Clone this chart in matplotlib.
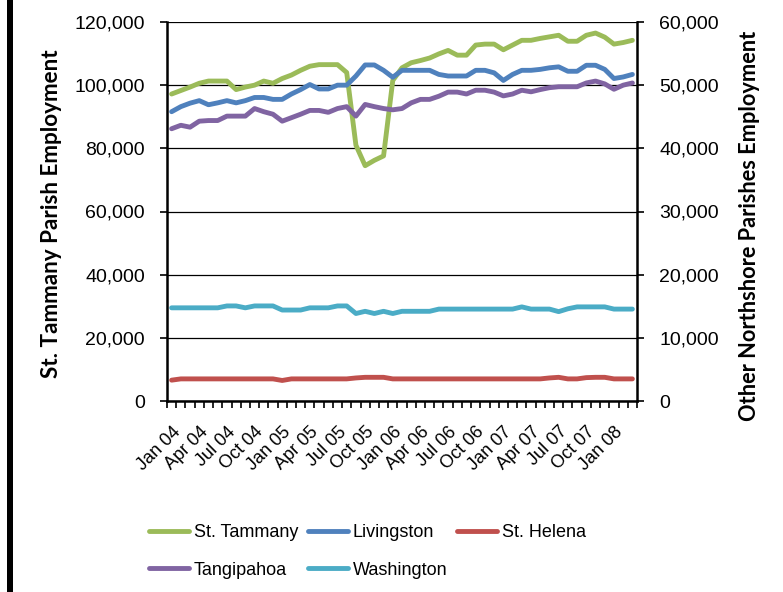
import matplotlib
matplotlib.use("Agg")
import matplotlib.pyplot as plt
from matplotlib.ticker import FuncFormatter, FixedLocator, MultipleLocator
from matplotlib.patches import Rectangle

plt.rcParams['font.family'] = ['Liberation Sans', 'DejaVu Sans']

# ---------------- data ----------------
month_names = ["Jan", "Feb", "Mar", "Apr", "May", "Jun",
               "Jul", "Aug", "Sep", "Oct", "Nov", "Dec"]
years = ["04", "05", "06", "07", "08"]
categories = [f"{m} {y}" for y in years for m in month_names][:51]   # Jan 04 .. Mar 08

tick_labels = ["Jan 04", "Apr 04", "Jul 04", "Oct 04", "Jan 05", "Apr 05", "Jul 05",
               "Oct 05", "Jan 06", "Apr 06", "Jul 06", "Oct 06", "Jan 07", "Apr 07",
               "Jul 07", "Oct 07", "Jan 08"]

# left axis
st_tammany = [97200, 98300, 99400, 100600, 101300, 101300, 101300, 98600, 99400, 100000,
              101300, 100600, 102100, 103200, 104700, 106000, 106500, 106500, 106500, 104000,
              81000, 74500, 76200, 77600, 101500, 105500, 107100, 107800, 108600, 109900,
              111000, 109500, 109500, 112700, 113000, 113000, 111200, 112700, 114200, 114200,
              114800, 115300, 115800, 113900, 113900, 115800, 116500, 115200, 113000, 113500,
              114200]

# right axis
livingston = [45800, 46600, 47150, 47550, 46900, 47200, 47550, 47200, 47550, 48050,
              48050, 47750, 47750, 48600, 49300, 50100, 49400, 49400, 50000, 50000,
              51450, 53200, 53200, 52350, 51250, 52350, 52350, 52350, 52350, 51700,
              51450, 51450, 51450, 52350, 52350, 51950, 50750, 51700, 52350, 52350,
              52500, 52750, 52900, 52200, 52200, 53150, 53150, 52500, 51050, 51300,
              51700]

st_helena = [3300, 3500, 3500, 3500, 3500, 3500, 3500, 3500, 3500, 3500,
             3500, 3500, 3250, 3500, 3500, 3500, 3500, 3500, 3500, 3500,
             3650, 3750, 3750, 3750, 3500, 3500, 3500, 3500, 3500, 3500,
             3500, 3500, 3500, 3500, 3500, 3500, 3500, 3500, 3500, 3500,
             3500, 3650, 3750, 3500, 3500, 3700, 3750, 3750, 3500, 3500,
             3500]

tangipahoa = [43100, 43650, 43350, 44300, 44400, 44400, 45100, 45100, 45100, 46300,
              45800, 45400, 44300, 44850, 45400, 46000, 46000, 45700, 46300, 46600,
              45100, 46950, 46600, 46300, 46100, 46300, 47200, 47750, 47750, 48250,
              48900, 48900, 48600, 49200, 49200, 48900, 48300, 48600, 49200, 48950,
              49300, 49600, 49750, 49750, 49750, 50350, 50650, 50200, 49350, 50000,
              50350]

washington = [14750, 14750, 14750, 14750, 14750, 14750, 15050, 15050, 14750, 15050,
              15050, 15050, 14400, 14400, 14400, 14750, 14750, 14750, 15050, 15050,
              13850, 14200, 13850, 14200, 13850, 14200, 14200, 14200, 14200, 14550,
              14550, 14550, 14550, 14550, 14550, 14550, 14550, 14550, 14900, 14550,
              14550, 14550, 14150, 14600, 14900, 14900, 14900, 14900, 14550, 14550,
              14550]

colors = {"St. Tammany": "#9BBB59", "Livingston": "#4F81BD", "St. Helena": "#C0504D",
          "Tangipahoa": "#8064A2", "Washington": "#4BACC6"}

# ---------------- figure ----------------
W, H = 783, 592
fig = plt.figure(figsize=(W / 100, H / 100), dpi=100)
L, R, T, B = 167, 637, 22, 401
ax = fig.add_axes([L / W, 1 - B / H, (R - L) / W, (B - T) / H])
ax2 = ax.twinx()

x = list(range(len(categories)))
lw = 3.5

l_stt, = ax.plot(x, st_tammany, color=colors["St. Tammany"], lw=lw,
                 solid_joinstyle="round", solid_capstyle="round", zorder=3)
ax2_lines = {}
for name, vals in [("Livingston", livingston), ("St. Helena", st_helena),
                   ("Tangipahoa", tangipahoa), ("Washington", washington)]:
    ln, = ax2.plot(x, vals, color=colors[name], lw=lw,
                   solid_joinstyle="round", solid_capstyle="round", zorder=3)
    ax2_lines[name] = ln

fmt = FuncFormatter(lambda v, p: f"{int(v):,}")

ax.set_xlim(-0.5, len(categories) - 0.5)
ax.set_ylim(0, 120000)
ax.yaxis.set_major_locator(MultipleLocator(20000))
ax.yaxis.set_major_formatter(fmt)
ax2.set_ylim(0, 60000)
ax2.yaxis.set_major_locator(MultipleLocator(10000))
ax2.yaxis.set_major_formatter(fmt)

ax.grid(axis="y", color="black", lw=0.9, zorder=1)
ax.set_axisbelow(True)

# x ticks: boundary tick marks (minor) and labels every 3 months (major)
label_pos = [categories.index(t) for t in tick_labels]
ax.xaxis.set_major_locator(FixedLocator(label_pos))
ax.set_xticklabels(tick_labels, rotation=45, ha="right", va="top",
                   rotation_mode="anchor", fontsize=13)
ax.xaxis.set_minor_locator(FixedLocator([i - 0.5 for i in range(len(categories) + 1)]))
ax.tick_params(axis="x", which="major", length=0, pad=16)
ax.tick_params(axis="x", which="minor", length=5, width=1.2, direction="out", color="black")

ax.tick_params(axis="y", which="major", length=5, width=1.2, labelsize=14, pad=11)
ax2.tick_params(axis="y", which="major", length=5, width=1.2, labelsize=14, pad=11)

for a in (ax, ax2):
    a.spines["top"].set_visible(False)
    for s in ("left", "right", "bottom"):
        a.spines[s].set_linewidth(1.8)
        a.spines[s].set_color("black")
ax.spines["right"].set_visible(False)
ax2.spines["left"].set_visible(False)
ax2.spines["bottom"].set_visible(False)

# axis titles
t_left = fig.text(52 / W, 1 - 214 / H, "St. Tammany Parish Employment", rotation=90,
                  ha="center", va="center", fontsize=12, fontweight="bold",
                  family=["Lato", "DejaVu Sans"])
t_right = fig.text(749 / W, 1 - 226 / H, "Other Northshore Parishes Employment", rotation=90,
                   ha="center", va="center", fontsize=12, fontweight="bold",
                   family=["Lato", "DejaVu Sans"])

# legend
handles = [l_stt, ax2_lines["Tangipahoa"], ax2_lines["Livingston"],
           ax2_lines["Washington"], ax2_lines["St. Helena"]]
labels = ["St. Tammany", "Tangipahoa", "Livingston", "Washington", "St. Helena"]
fig.legend(handles, labels, ncol=3, loc="upper left",
           bbox_to_anchor=(149 / W, 1 - 524 / H), frameon=False, fontsize=13,
           handlelength=2.2, handletextpad=0.28, columnspacing=0.55,
           labelspacing=1.15, borderaxespad=0, borderpad=0)

# left black frame bar
fig.add_artist(Rectangle((7 / W, 0), 6 / W, 1, transform=fig.transFigure,
                         facecolor="black", edgecolor="none"))

# scale axis titles to the lengths seen in the reference
fig.canvas.draw()
for t, target in ((t_left, 329), (t_right, 388)):
    h = t.get_window_extent().height
    t.set_fontsize(t.get_fontsize() * target / h)

fig.savefig("out.png", dpi=100)
